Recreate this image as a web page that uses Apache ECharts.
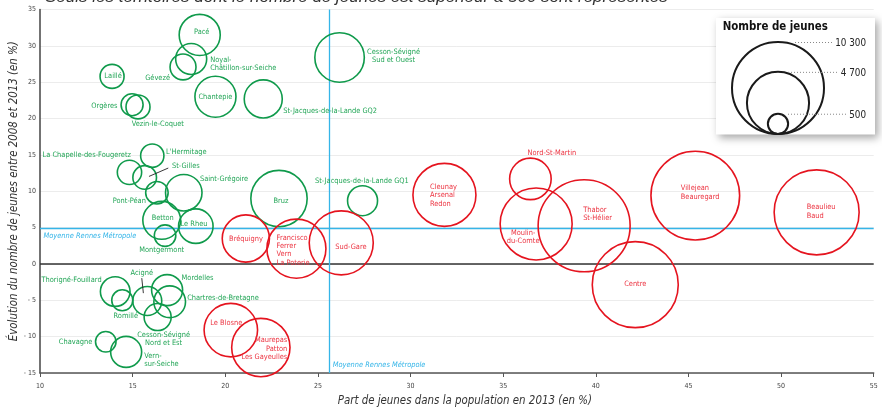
<!DOCTYPE html>
<html>
<head>
<meta charset="utf-8">
<script src="https://cdn.jsdelivr.net/npm/echarts@6/dist/echarts.min.js"></script>
<style>
html,body{margin:0;padding:0;background:#fff;}
#chart{width:882px;height:413px;}
</style>
</head>
<body>
<div id="chart"></div>
<script>
// ---------- DATA ----------
const territoires = [
  'Pacé','Noyal-\nChâtillon-sur-Seiche','Gévezé','Laillé','Chantepie','St-Jacques-de-la-Lande GQ2',
  'Orgères','Vezin-le-Coquet','Cesson-Sévigné\nSud et Ouest',"L'Hermitage",'La Chapelle-des-Fougeretz',
  'St-Gilles','Saint-Grégoire','Pont-Péan','Betton','Le Rheu','Montgermont','Bruz',
  'St-Jacques-de-la-Lande GQ1','Thorigné-Fouillard','Romillé','Acigné','Mordelles',
  'Chartres-de-Bretagne','Cesson-Sévigné\nNord et Est','Chavagne','Vern-\nsur-Seiche',
  'Bréquigny','Francisco\nFerrer\nVern\nLa Poterie','Sud-Gare','Cleunay\nArsenal\nRedon',
  'Nord-St-Martin','Moulin-\ndu-Comte','Thabor\nSt-Hélier','Villejean\nBeauregard',
  'Beaulieu\nBaud','Centre','Le Blosne','Maurepas\nPatton\nLes Gayeulles'
];
// Part de jeunes dans la population en 2013 (%)
const partJeunes = [
  18.62,18.16,17.72,13.89,19.47,22.05,
  14.97,15.29,26.17,16.06,14.83,
  15.65,17.76,16.31,16.57,18.41,16.75,22.90,
  27.41,14.06,14.44,15.79,16.86,
  17.00,16.35,13.55,14.65,
  21.11,23.84,26.26,31.83,
  36.47,36.78,39.37,45.37,
  51.92,42.13,20.30,21.92
];
// Évolution du nombre de jeunes entre 2008 et 2013 (%)
const evolution = [
  31.5,28.2,27.1,25.8,23.0,22.7,
  21.9,21.6,28.4,14.9,12.6,
  11.9,9.8,9.8,6.0,5.2,3.9,9.0,
  8.7,-3.8,-5.0,-5.1,-3.6,
  -5.2,-7.3,-10.7,-12.1,
  3.5,2.1,2.9,9.5,
  11.7,5.5,5.25,9.4,
  7.1,-2.85,-9.1,-11.5
];
// Nombre de jeunes
const nbJeunes = [
  2050,1170,820,700,2050,1760,
  590,700,2980,660,720,
  680,1620,615,1740,1450,563,3860,
  1095,1070,537,1020,1170,
  1220,890,511,1170,
  2710,4240,4990,4830,
  2100,6310,10300,9570,
  8790,9000,3480,4140
];
// Groupe : communes (vert) / quartiers de Rennes (rouge)
const groupe = [
  'c','c','c','c','c','c','c','c','c','c','c','c','c','c','c','c','c','c','c','c','c','c','c','c','c','c','c',
  'q','q','q','q','q','q','q','q','q','q','q','q'
];
const moyennePart = 25.6;
const moyenneEvolution = 4.9;
const legendeValeurs = [10300, 4700, 500];
const legendeLabels = ['10 300', '4 700', '500'];
const xTicks = [10,15,20,25,30,35,40,45,50,55];
const yTicks = [-15,-10,-5,0,5,10,15,20,25,30,35];

// ---------- STYLE / LAYOUT ----------
function hasFont(name){
  const c = document.createElement('canvas').getContext('2d');
  const s = 'abcdefghijklmnopqrstuvwxyz ABCDEFGHIJ 0123456789';
  c.font = '40px monospace'; const a = c.measureText(s).width;
  c.font = "40px '" + name + "', monospace"; const b = c.measureText(s).width;
  return Math.abs(a - b) > 0.5;
}
let FAM, K, KN;
if (hasFont('Liberation Sans Narrow')) { FAM = "'Liberation Sans Narrow', sans-serif"; K = 1; KN = 1; }
else if (hasFont('DejaVu Sans Condensed')) { FAM = "'DejaVu Sans Condensed', sans-serif"; K = 0.82; KN = 0.88; }
else { FAM = "'Liberation Sans', Arial, sans-serif"; K = 0.82; KN = 0.88; }
const fs = s => Math.round(s * K * 10) / 10;
const fsn = s => Math.round(s * KN * 10) / 10;

const MAX_D = 92, MAX_N = 10300;
const diam = n => MAX_D * Math.sqrt(n / MAX_N);

const GREEN = '#0f9a4b', GREEN_TXT = '#22a556';
const RED = '#e5141f', RED_TXT = '#ec3340';
const CYAN = '#35b5e8';

// label placement: [align, dx, dy] relative to bubble centre (pixels)
const placement = {
  'Pacé':['center',2,-3], 'Noyal-\nChâtillon-sur-Seiche':['left',19,5], 'Gévezé':['right',-13,11.5],
  'Laillé':['center',1,0], 'Chantepie':['center',0,0], 'St-Jacques-de-la-Lande GQ2':['left',20,12],
  'Orgères':['right',-14.5,1.6], 'Vezin-le-Coquet':['left',-6.3,17.3], 'Cesson-Sévigné\nSud et Ouest':['center',54,-1.4],
  "L'Hermitage":['left',13.7,-3.7], 'La Chapelle-des-Fougeretz':['right',1.5,-17], 'St-Gilles':['left',27.3,-11.7],
  'Saint-Grégoire':['left',16.2,-13.4], 'Pont-Péan':['right',-11,8.2], 'Betton':['center',1,-2],
  'Le Rheu':['center',-1.8,-2.2], 'Montgermont':['center',-3.3,14.2], 'Bruz':['center',2,2.3],
  'St-Jacques-de-la-Lande GQ1':['center',-0.7,-20], 'Thorigné-Fouillard':['right',-13.6,-11.7],
  'Romillé':['center',3.5,16.2], 'Acigné':['center',-5.5,-28], 'Mordelles':['left',14.5,-12.3],
  'Chartres-de-Bretagne':['left',17.5,-3.5], 'Cesson-Sévigné\nNord et Est':['center',6,21.8],
  'Chavagne':['right',-13.5,0], 'Vern-\nsur-Seiche':['left',18.1,8.5],
  'Bréquigny':['center',0.2,0.5], 'Francisco\nFerrer\nVern\nLa Poterie':['left',-19.8,1.5],
  'Sud-Gare':['center',9.7,3.9], 'Cleunay\nArsenal\nRedon':['left',-14.5,0.5],
  'Nord-St-Martin':['center',21.5,-26], 'Moulin-\ndu-Comte':['center',-13,13],
  'Thabor\nSt-Hélier':['left',-1,-11.5], 'Villejean\nBeauregard':['left',-14.5,-3],
  'Beaulieu\nBaud':['left',-10,-0.7], 'Centre':['center',0,-0.7], 'Le Blosne':['center',-4.6,-6.7],
  'Maurepas\nPatton\nLes Gayeulles':['right',26.5,1.3]
};
// pointer lines (pixel offsets from bubble centre)
const pointers = [
  {name:'St-Gilles', from:[4.3,-1], to:[23.6,-9.4]},
  {name:'Acigné', from:[-3.9,-7.9], to:[-5.5,-22.9]}
];

const seriesNames = {};
function buildData(g){
  const out = [];
  seriesNames[g] = [];
  territoires.forEach((t, i) => {
    if (groupe[i] !== g) return;
    const p = placement[t] || ['center',0,0];
    seriesNames[g].push(t);
    out.push({
      name: t,
      value: [partJeunes[i], evolution[i], nbJeunes[i]],
      label: { align: p[0] }
    });
  });
  return out;
}

const chart = echarts.init(document.getElementById('chart'), null, {renderer:'canvas'});

function bubbleSeries(g, stroke, txt){
  const data = buildData(g);
  return {
    type: 'scatter',
    data: data,
    symbol: 'circle',
    symbolSize: v => diam(v[2]),
    itemStyle: { color: 'rgba(0,0,0,0)', borderColor: stroke, borderWidth: 1.6, opacity: 1 },
    label: {
      show: true, position: 'inside', formatter: p => p.name,
      color: txt, fontFamily: FAM, fontSize: fs(9), lineHeight: 8.3, verticalAlign: 'middle'
    },
    labelLayout: params => {
      const nm = seriesNames[g][params.dataIndex];
      const p = placement[nm] || ['center',0,0];
      return { dx: p[1], dy: p[2], hideOverlap: false, moveOverlap: false };
    },
    emphasis: { disabled: true },
    silent: true,
    z: 3
  };
}

const option = {
  animation: false,
  backgroundColor: '#fff',
  grid: { left: 40, right: 8.3, top: 9.5, bottom: 40, containLabel: false, outerBoundsMode: 'none' },
  xAxis: {
    type: 'value', min: xTicks[0], max: xTicks[xTicks.length-1], interval: 5,
    name: 'Part de jeunes dans la population en 2013 (en %)',
    nameLocation: 'middle', nameGap: 23, nameMoveOverlap: false,
    nameTextStyle: { fontFamily: FAM, fontSize: fsn(13), fontStyle: 'italic', color: '#333', padding: [0,0,0,16] },
    axisLine: { show: true, onZero: false, lineStyle: { color: '#555', width: 1.5 } },
    axisTick: { show: true, length: 4, lineStyle: { color: '#555', width: 1 } },
    axisLabel: { fontFamily: FAM, fontSize: fsn(8), color: '#444', margin: 10 },
    splitLine: { show: false }
  },
  yAxis: {
    type: 'value', min: yTicks[0], max: yTicks[yTicks.length-1], interval: 5,
    name: 'Évolution du nombre de jeunes entre 2008 et 2013 (en %)',
    nameLocation: 'middle', nameGap: 20, nameRotate: 90, nameMoveOverlap: false,
    nameTextStyle: { fontFamily: FAM, fontSize: fsn(13), fontStyle: 'italic', color: '#333' },
    axisLine: { show: true, onZero: false, lineStyle: { color: '#444', width: 1.5 } },
    axisTick: { show: false },
    axisLabel: { fontFamily: FAM, fontSize: fsn(8), color: '#444', margin: 4,
      formatter: v => v < 0 ? '- ' + Math.abs(v) : String(v) },
    splitLine: { show: true, lineStyle: { color: '#ececec', width: 1 } }
  },
  series: [
    Object.assign(bubbleSeries('c', GREEN, GREEN_TXT), {
      markLine: {
        silent: true, symbol: 'none', animation: false, label: { show: false },
        data: [
          { yAxis: 0, lineStyle: { color: '#333', width: 1.5, type: 'solid' } },
          { xAxis: moyennePart, lineStyle: { color: CYAN, width: 1.3, type: 'solid' } },
          { yAxis: moyenneEvolution, lineStyle: { color: CYAN, width: 1.3, type: 'solid' } }
        ],
        z: 2
      }
    }),
    bubbleSeries('q', RED, RED_TXT)
  ]
};
chart.setOption(option);

// ---------- overlays ----------
const graphics = [];
graphics.push({
  type: 'text', left: 45, top: -11, silent: true,
  style: { text: 'Seuls les territoires dont le nombre de jeunes est supérieur à 500 sont représentés',
    font: 'italic 17px ' + "'Liberation Sans', Arial, sans-serif", fill: '#333' }
});
const hp = chart.convertToPixel({gridIndex:0}, [xTicks[0], moyenneEvolution]);
graphics.push({ type:'text', x: hp[0] + 3.5, y: hp[1] + 7.3, silent:true,
  style:{ text:'Moyenne Rennes Métropole', fill: CYAN, font: 'italic ' + fs(9) + 'px ' + FAM,
    textAlign:'left', textVerticalAlign:'middle' } });
const vp = chart.convertToPixel({gridIndex:0}, [moyennePart, yTicks[0]]);
graphics.push({ type:'text', x: vp[0] + 3.7, y: vp[1] - 8, silent:true,
  style:{ text:'Moyenne Rennes Métropole', fill: CYAN, font: 'italic ' + fs(9) + 'px ' + FAM,
    textAlign:'left', textVerticalAlign:'middle' } });
pointers.forEach(pt => {
  const i = territoires.indexOf(pt.name);
  const c = chart.convertToPixel({gridIndex:0}, [partJeunes[i], evolution[i]]);
  graphics.push({ type:'line', silent:true, z: 10,
    shape:{ x1: c[0]+pt.from[0], y1: c[1]+pt.from[1], x2: c[0]+pt.to[0], y2: c[1]+pt.to[1] },
    style:{ stroke:'#222', lineWidth: 0.9 } });
});
const LB = { x: 716, y: 18, w: 159, h: 116.5 };
const cx = 778, baseY = 134;
graphics.push({ type:'rect', silent:true, z: 20,
  shape:{ x: LB.x, y: LB.y, width: LB.w, height: LB.h },
  style:{ fill:'#fff', shadowBlur: 8, shadowOffsetX: 3, shadowOffsetY: 3, shadowColor:'rgba(0,0,0,0.35)' } });
graphics.push({ type:'text', silent:true, z: 21, x: 722.7, y: 27.5,
  style:{ text:'Nombre de jeunes', font: 'bold ' + fsn(13) + 'px ' + FAM, fill:'#111',
    textAlign:'left', textVerticalAlign:'middle' } });
const lineStart = [17, 10, 10];
const lineEnd = [834, 838, 846];
legendeValeurs.forEach((v, k) => {
  const r = diam(v) / 2;
  graphics.push({ type:'circle', silent:true, z: 21,
    shape:{ cx: cx, cy: baseY - r, r: r },
    style:{ fill:'none', stroke:'#1a1a1a', lineWidth: 2 } });
  const ty = baseY - 2 * r + 0.5;
  graphics.push({ type:'line', silent:true, z: 21,
    shape:{ x1: cx + lineStart[k], y1: ty, x2: lineEnd[k], y2: ty },
    style:{ stroke:'#888', lineWidth: 1, lineDash: [1, 2] } });
  graphics.push({ type:'text', silent:true, z: 21, x: 866, y: ty + 1,
    style:{ text: legendeLabels[k], font: fs(12) + 'px ' + FAM, fill:'#222',
      textAlign:'right', textVerticalAlign:'middle' } });
});
chart.setOption({ graphic: graphics });
</script>
</body>
</html>
